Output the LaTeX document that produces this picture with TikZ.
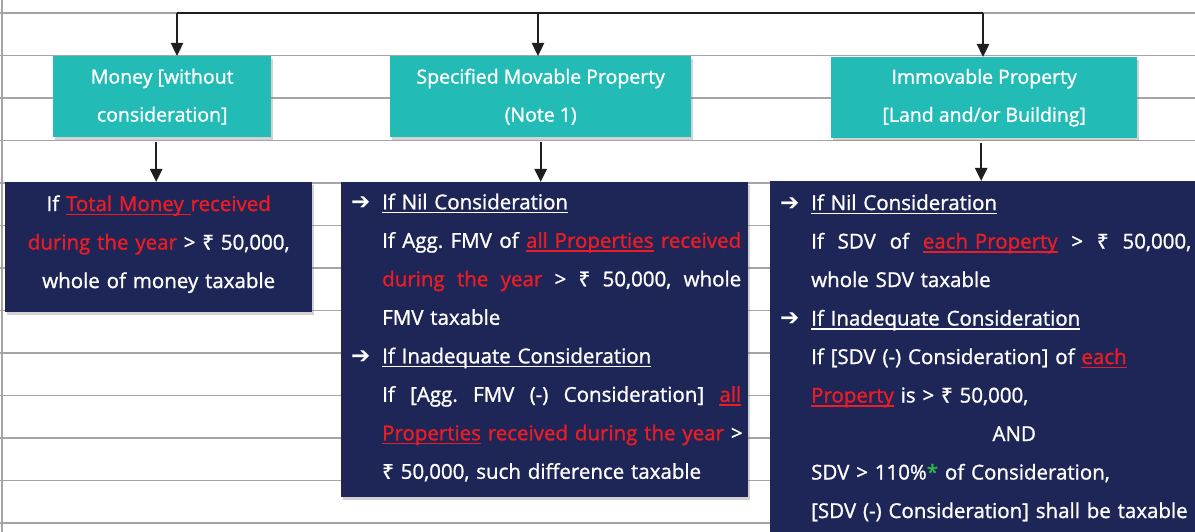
\documentclass[tikz,border=0pt]{standalone}
\usepackage{fontspec}
\setmainfont{Open Sans}[RawFeature={embolden=1.2}]
\newfontfamily\rupeefont{Noto Sans}[RawFeature={embolden=1.2}]
\newfontfamily\arrowfont{DejaVu Sans}
\usetikzlibrary{arrows.meta,shadows}
\definecolor{tealbg}{RGB}{34,187,182}
\definecolor{navybg}{RGB}{30,38,87}
\definecolor{rd}{RGB}{237,28,36}
\definecolor{gr}{RGB}{45,184,75}
\definecolor{ruling}{RGB}{165,165,165}
\frenchspacing
\newcommand{\uline}[1]{\setbox0\hbox{#1}\rlap{\rule[-4pt]{\wd0}{1.5pt}}\box0}
\newcommand{\rs}{{\rupeefont ₹}}
\newcommand{\bul}{\makebox[34pt][l]{\hspace{3pt}{\arrowfont\bfseries\fontsize{23}{23}\selectfont ➔}}}
\newcommand{\ind}{\hspace*{34pt}}
\newcommand{\rd}[1]{\textcolor{rd}{#1}}
\newcommand{\rul}[1]{\textcolor{rd}{\uline{#1}}}
\newcommand{\jline}[2]{\hbox to #1pt{#2}}
\newcommand{\gap}{\hskip 0pt plus 1fil\relax}

\tikzset{
	head/.style={fill=tealbg, text=white, align=center, anchor=north west,
		font=\fontsize{19.5}{38}\selectfont, minimum height=81pt, inner sep=0pt,
		drop shadow={shadow xshift=2pt, shadow yshift=-3pt, opacity=.35}},
	body/.style={fill=navybg, text=white, anchor=north west,
		font=\fontsize{20.5}{38.5}\selectfont, inner xsep=7pt, inner ysep=0pt,
		drop shadow={shadow xshift=2pt, shadow yshift=-3pt, opacity=.35}},
	ruleline/.style={draw=ruling, line width=1.2pt},
	link/.style={line width=2.4pt, draw=black!88, -{Triangle[width=12pt,length=13pt]}}
}

\begin{document}
\begin{tikzpicture}[x=1pt, y=-1pt]
			%%%%% START %%%%%
			\useasboundingbox[fill=white] (0,0) rectangle (1195,532);
			
			% notebook ruling
			\foreach \y in {13,55.5,98,140.5,183,225.5,268,310.5,353,395.5,438,480.5,523}
				\draw[ruleline] (0,\y) -- (1195,\y);
			\draw[ruleline] (2,0) -- (2,532);
			
			% headings
			\node[head, minimum width=218pt] (money) at (53,56) {Money [without\\consideration]};
			\node[head, minimum width=301pt] (movable) at (390,56) {Specified Movable Property\\(Note 1)};
			\node[head, minimum width=306pt] (immovable) at (831,57) {Immovable Property\\{[}Land and/or Building{]}};
			
			% rules
			\node[body, align=center, minimum width=307pt, minimum height=130pt, text width=293pt] (moneyrule) at (5,182)
				{If \rul{Total Money }\rd{received}\\
				 \rd{during the year} > \rs\ 50,000,\\
				 whole of money taxable\rule[-11pt]{0pt}{0pt}};
			
			\node[body, align=left, minimum width=407pt, minimum height=315pt, text width=393pt] (movrule) at (341,182)
				{\bul\uline{If Nil Consideration}\\
				 \ind\jline{359}{If \gap Agg. \gap FMV \gap of \gap \rul{all Properties} \gap \rd{received}}\\
				 \ind\jline{359}{\rd{during \gap the \gap year} \gap > \gap \rs\ \gap 50,000, \gap whole}\\
				 \ind FMV taxable\\
				 \bul\uline{If Inadequate Consideration}\\
				 \ind\jline{359}{If \gap [Agg. \gap FMV \gap (-) \gap Consideration] \gap \rul{all}}\\
				 \ind\jline{359}{\rul{Properties} \rd{received during the year} \gap >}\\
				 \ind\rs\ 50,000, such difference taxable\rule[-7pt]{0pt}{0pt}};
			
			\node[body, align=left, minimum width=445pt, minimum height=400pt, text width=431pt] (immrule) at (770,181)
				{\bul\uline{If Nil Consideration}\\
				 \ind\jline{380}{If \gap SDV \gap of \gap \rul{each \gap Property} \gap > \gap \rs\ \gap 50,000,}\\
				 \ind whole SDV taxable\\
				 \bul\uline{If Inadequate Consideration}\\
				 \ind If [SDV (-) Consideration] of \rul{each}\\
				 \ind\rul{Property} is > \rs\ 50,000,\\
				 \ind\makebox[406pt][c]{AND}\\
				 \ind SDV > 110\%\textcolor{gr}{*} of Consideration,\\
				 \ind [SDV (-) Consideration] shall be taxable\\
				 \strut};
			
			% connectors
			\coordinate (forkL) at (177,13);
			\coordinate (fork) at (538,13);
			\coordinate (forkR) at (983,13);
			\draw[line width=2.4pt, black!88] (forkL) -- (forkR);
			\draw[link] (forkL) -- (forkL |- money.north);
			\draw[link] (fork) -- (fork |- movable.north);
			\draw[link] (forkR) -- (forkR |- immovable.north);
			
			\draw[link] ([xshift=-6pt, yshift=-5pt]money.south) -- ([xshift=-6pt]money.south |- moneyrule.north);
			\draw[link] ([yshift=-5pt]movable.south) -- (movable.south |- movrule.north);
			\draw[link] ([xshift=-3pt, yshift=-5pt]immovable.south) -- ([xshift=-3pt]immovable.south |- immrule.north);
			
			%%%%% END %%%%%
		\end{tikzpicture}
\end{document}
